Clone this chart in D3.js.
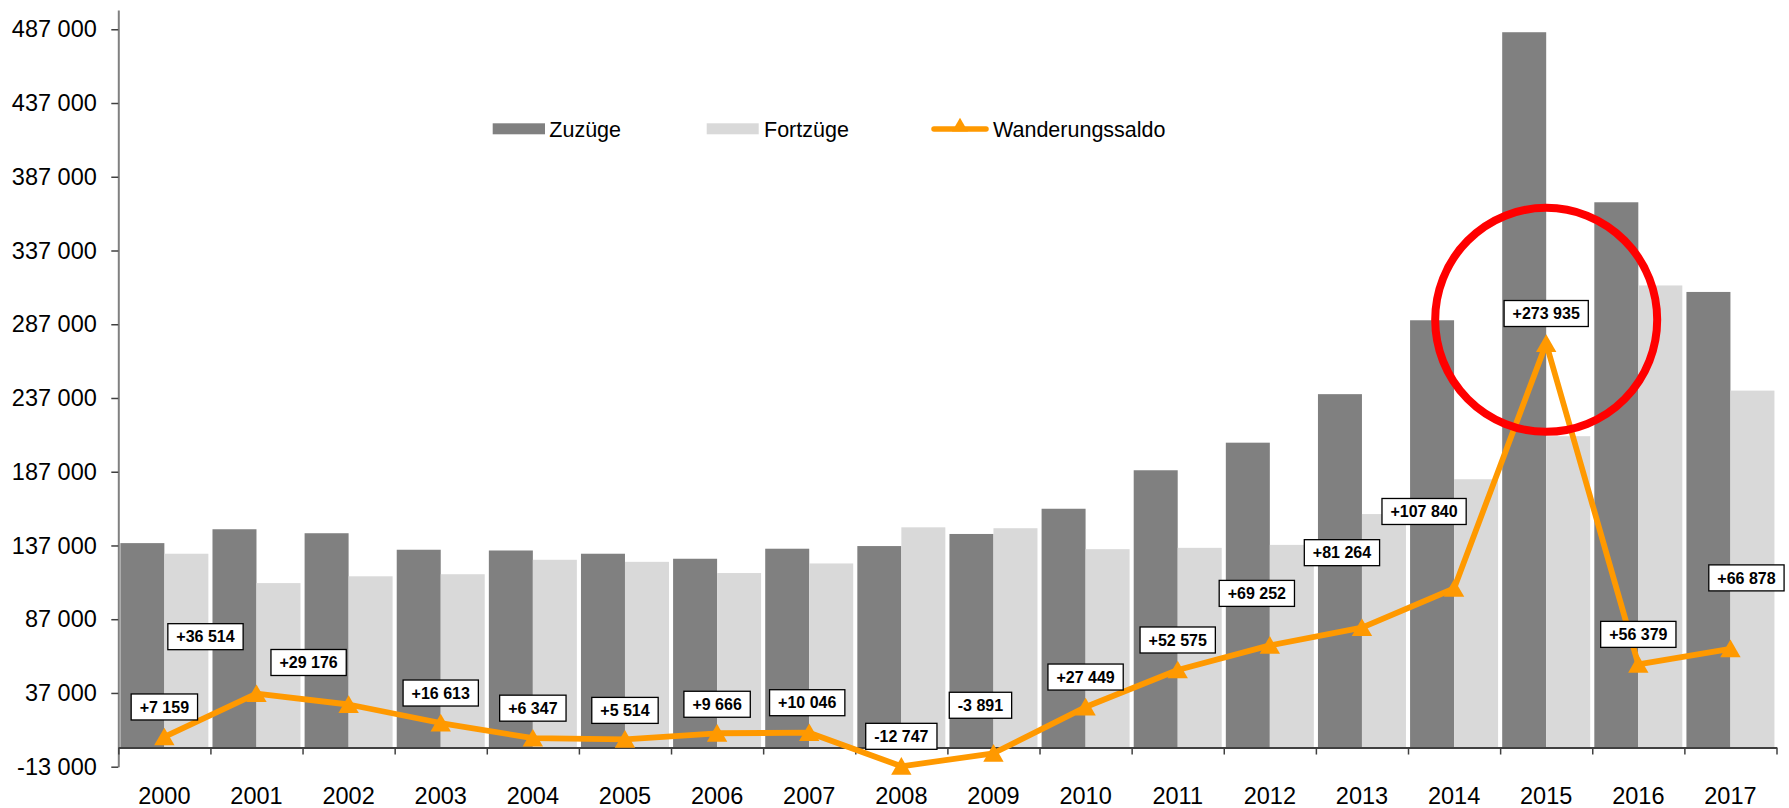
<!DOCTYPE html>
<html lang="de">
<head>
<meta charset="utf-8">
<title>Zuzüge, Fortzüge und Wanderungssaldo</title>
<script src="https://cdn.jsdelivr.net/npm/d3@7"></script>
<style>
  html, body { margin: 0; padding: 0; background: #fff; }
  svg { display: block; font-family: Arial, "Liberation Sans", sans-serif; }
</style>
</head>
<body>
<div id="chart"></div>
<script>
const years = ["2000", "2001", "2002", "2003", "2004", "2005", "2006", "2007", "2008",
  "2009", "2010", "2011", "2012", "2013", "2014", "2015", "2016", "2017"];
const zuzuege = [138600, 148000, 145300, 134100, 133600, 131400, 128000, 134800, 136600,
  144800, 161900, 188000, 206700, 239600, 289700, 485000, 369700, 308900];
const fortzuege = [131400, 111500, 116100, 117500, 127300, 125900, 118300, 124800, 149300,
  148700, 134500, 135400, 137400, 158300, 181900, 211100, 313300, 242000];
const saldo = [7159, 36514, 29176, 16613, 6347, 5514, 9666, 10046, -12747,
  -3891, 27449, 52575, 69252, 81264, 107840, 273935, 56379, 66878];
const yTicks = [-13000, 37000, 87000, 137000, 187000, 237000, 287000, 337000, 387000, 437000, 487000];
const seriesNames = ["Zuzüge", "Fortzüge", "Wanderungssaldo"];

// labels were moved by hand in the original, offsets in px from the point
const labelDx = [0, -51, -40, 0, 0, 0, 0, -2, 0, -13, 0, 0, -13, -20, -30, 0, 0, 16];
const labelDy = [-30, -57, -42, -30, -30, -29, -29, -30, -30, -48, -30, -30, -52, -75, -77, -30, -30, -71];

const highlightYear = "2015";
const highlightValue = 290000;

const width = 1789,
  height = 808,
  colors = { zu: "#808080", fort: "#d9d9d9", saldo: "#ff9900" };

const de = d3.formatLocale({ decimal: ",", thousands: " ", grouping: [3], currency: ["", " €"], minus: "-" });
const fmtTick = de.format(",d");
const fmtSaldo = de.format("+,d");

const svg = d3.select("#chart").append("svg").attr("width", width).attr("height", height);

const x0 = d3.scaleBand().domain(years).range([118.3, 1776.5]).paddingInner(0.0447).paddingOuter(0.02235);
const x1 = d3.scaleBand().domain(["zu", "fort"]).range([0, x0.bandwidth()]);
const xEdges = d3.scaleLinear().domain([0, years.length]).range([118.3, 1776.5]);
const y = d3.scaleLinear().domain([-13000, 500000]).range([766.7, 10.1]);
const cx = (i) => x0(years[i]) + x0.bandwidth() / 2;

// bars
const groups = svg.append("g")
  .selectAll("g")
  .data(years)
  .join("g")
  .attr("transform", (d) => `translate(${x0(d)},0)`);

groups.append("rect")
  .attr("x", x1("zu"))
  .attr("width", x1.bandwidth())
  .attr("y", (d, i) => y(zuzuege[i]))
  .attr("height", (d, i) => y(0) - y(zuzuege[i]))
  .attr("fill", colors.zu);

groups.append("rect")
  .attr("x", x1("fort"))
  .attr("width", x1.bandwidth())
  .attr("y", (d, i) => y(fortzuege[i]))
  .attr("height", (d, i) => y(0) - y(fortzuege[i]))
  .attr("fill", colors.fort);

// y axis
const yAxis = svg.append("g")
  .attr("transform", "translate(118.3,0)")
  .call(d3.axisLeft(y).tickValues(yTicks).tickSize(7).tickSizeOuter(0).tickPadding(14.5).tickFormat(fmtTick));
yAxis.select(".domain").attr("stroke", "#808080").attr("stroke-width", 2);
yAxis.selectAll(".tick line").attr("stroke", "#404040").attr("stroke-width", 1.5);
yAxis.selectAll("text").attr("font-size", "23.5px").attr("fill", "#000").attr("font-family", null);

// x axis on the zero line, ticks between the categories
const xAxis = svg.append("g")
  .attr("transform", `translate(0,${y(0)})`)
  .call(d3.axisBottom(xEdges).tickValues(d3.range(years.length + 1)).tickSize(7).tickSizeOuter(0).tickFormat(""));
xAxis.select(".domain").attr("stroke", "#404040").attr("stroke-width", 2);
xAxis.selectAll(".tick line").attr("stroke", "#404040").attr("stroke-width", 1.5);

const xLabels = svg.append("g")
  .attr("transform", `translate(0,${y(0)})`)
  .call(d3.axisBottom(x0).tickSize(0).tickPadding(40));
xLabels.select(".domain").remove();
xLabels.selectAll("text").attr("font-size", "23.5px").attr("fill", "#000").attr("font-family", null);

// saldo line
const line = d3.line().x((d, i) => cx(i)).y((d) => y(d));
svg.append("path")
  .attr("d", line(saldo))
  .attr("fill", "none")
  .attr("stroke", colors.saldo)
  .attr("stroke-width", 5.8)
  .attr("stroke-linejoin", "round");

const triangle = d3.symbol(d3.symbolTriangle, 180);
svg.append("g")
  .selectAll("path")
  .data(saldo)
  .join("path")
  .attr("d", triangle)
  .attr("transform", (d, i) => `translate(${cx(i)},${y(d) + 2.5})`)
  .attr("fill", colors.saldo);

// value labels
const labels = svg.append("g")
  .selectAll("g")
  .data(saldo)
  .join("g")
  .attr("transform", (d, i) => `translate(${cx(i) + labelDx[i]},${y(d) + labelDy[i]})`);

const labelRects = labels.append("rect").attr("fill", "#fff").attr("stroke", "#000").attr("stroke-width", 1.3);
const labelTexts = labels.append("text")
  .attr("text-anchor", "middle")
  .attr("dy", "0.36em")
  .attr("font-size", "16px")
  .attr("font-weight", "bold")
  .text((d) => fmtSaldo(d));

labelTexts.each(function (d, i) {
  const w = this.getComputedTextLength() + 17;
  d3.select(labelRects.nodes()[i]).attr("x", -w / 2).attr("y", -13).attr("width", w).attr("height", 26);
});

// legend
const legend = svg.append("g").attr("font-size", "21.5px");
legend.append("rect").attr("x", 492.7).attr("y", 123.3).attr("width", 52.3).attr("height", 11).attr("fill", colors.zu);
legend.append("text").attr("x", 549.3).attr("y", 136.7).text(seriesNames[0]);
legend.append("rect").attr("x", 706.7).attr("y", 123.3).attr("width", 52).attr("height", 11).attr("fill", colors.fort);
legend.append("text").attr("x", 764).attr("y", 136.7).text(seriesNames[1]);
legend.append("line")
  .attr("x1", 934).attr("x2", 986).attr("y1", 129).attr("y2", 129)
  .attr("stroke", colors.saldo).attr("stroke-width", 5.5).attr("stroke-linecap", "round");
legend.append("path").attr("d", d3.symbol(d3.symbolTriangle, 110)).attr("transform", "translate(960,127)").attr("fill", colors.saldo);
legend.append("text").attr("x", 993).attr("y", 136.7).text(seriesNames[2]);

// red highlight circle
svg.append("ellipse")
  .attr("cx", x0(highlightYear) + x0.bandwidth() / 2)
  .attr("cy", y(highlightValue))
  .attr("rx", 111)
  .attr("ry", 112)
  .attr("fill", "none")
  .attr("stroke", "#ff0000")
  .attr("stroke-width", 8);
</script>
</body>
</html>
